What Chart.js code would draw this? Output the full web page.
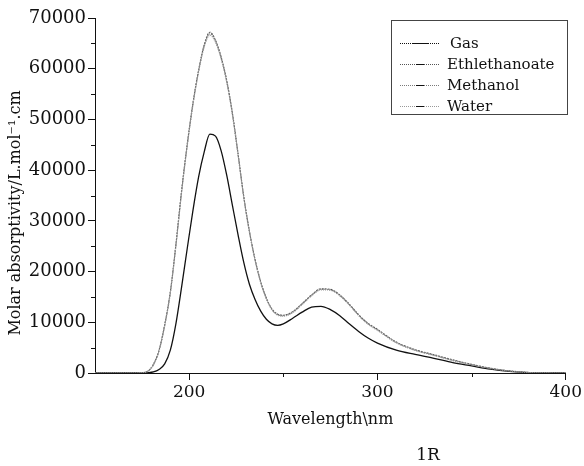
<!DOCTYPE html>
<html>
<head>
<meta charset="utf-8">
<script src="https://cdn.jsdelivr.net/npm/chart.js@4.4.0/dist/chart.umd.min.js"></script>
<style>
  body { margin: 0; background: #fff; }
  canvas { display: block; }
</style>
</head>
<body>
<canvas id="myChart" width="584" height="466"></canvas>
<script>
// wavelength grid (nm)
var wavelength = [150, 160, 170, 175, 178, 181, 184, 187, 190, 193, 196, 199, 202, 205, 208, 211, 214, 217, 220,
  223, 226, 229, 232, 235, 238, 241, 244, 247, 250, 255, 260, 265, 270, 275, 280, 285, 290, 295, 300,
  310, 320, 330, 340, 350, 360, 370, 380, 390, 400];

// molar absorptivity per medium
var gas = [0, 0, 0, 0, 50, 200, 700, 1800, 4500, 9800, 17000, 24600, 32000, 38600, 43600, 47100, 46700, 43800, 38900,
  33000, 27200, 21800, 17500, 14500, 12200, 10600, 9700, 9400, 9700, 10800, 12000, 13000, 13150, 12500, 11300, 9700, 8200, 6900, 5900,
  4500, 3650, 2900, 2050, 1400, 750, 320, 90, 10, 0];
var ethlethanoate = [0, 0, 0, 80, 350, 1700, 4500, 9500, 16000, 25500, 36000, 45200, 53200, 59700, 64700, 67200, 65600, 62300, 57600,
  51200, 43200, 34800, 28000, 22400, 18000, 14800, 12600, 11600, 11400, 12100, 13700, 15400, 16600, 16500, 15400, 13600, 11500, 9800, 8600,
  6100, 4600, 3600, 2600, 1700, 950, 420, 120, 30, 0];
var methanol = [0, 0, 0, 70, 330, 1650, 4400, 9400, 15900, 25300, 35800, 45000, 53000, 59500, 64500, 66900, 65400, 62100, 57400,
  51000, 43000, 34700, 27900, 22300, 17900, 14700, 12500, 11500, 11300, 12000, 13600, 15300, 16500, 16400, 15300, 13500, 11400, 9700, 8500,
  6000, 4500, 3500, 2500, 1650, 920, 400, 110, 25, 0];
var water = [0, 0, 0, 60, 300, 1550, 4300, 9200, 15700, 25100, 35600, 44800, 52800, 59300, 64300, 66600, 65200, 61900, 57200,
  50800, 42800, 34500, 27700, 22200, 17800, 14600, 12400, 11400, 11200, 11900, 13500, 15200, 16400, 16300, 15200, 13400, 11300, 9600, 8400,
  5950, 4450, 3450, 2450, 1600, 900, 380, 100, 20, 0];

var seriesNames = ['Gas', 'Ethlethanoate', 'Methanol', 'Water'];
var seriesValues = [gas, ethlethanoate, methanol, water];
var lineColors = ['#111111', '#555555', '#7a7a7a', '#999999'];
var lineDashes = [[], [2, 1], [1.5, 1], [1, 1]];

var xMajor = [200, 250, 300, 350, 400];
var xLabels = [200, 300, 400];
var yMajor = [0, 10000, 20000, 30000, 40000, 50000, 60000, 70000];

var serif = "'DejaVu Serif', serif";

function toPoints(values) {
  return values.map(function (v, i) { return { x: wavelength[i], y: v }; });
}

var datasets = seriesNames.map(function (name, i) {
  return {
    label: name,
    data: toPoints(seriesValues[i]),
    borderColor: lineColors[i],
    borderWidth: i === 0 ? 1.3 : 1.1,
    borderDash: lineDashes[i],
    pointRadius: 0,
    cubicInterpolationMode: 'monotone',
    fill: false
  };
}).reverse();

// minor ticks, titles, caption and the boxed legend
var extras = {
  id: 'extras',
  afterDraw: function (chart) {
    var c = chart.ctx;
    var xs = chart.scales.x, ys = chart.scales.y;
    c.save();
    c.strokeStyle = '#111';
    c.lineWidth = 1;
    c.beginPath();
    for (var v = 5000; v < 70000; v += 10000) {
      var py = Math.round(ys.getPixelForValue(v)) + 0.5;
      c.moveTo(xs.left - 4, py);
      c.lineTo(xs.left, py);
    }
    xMajor.forEach(function (w) {
      if (xLabels.indexOf(w) >= 0) return;
      var px = Math.round(xs.getPixelForValue(w)) + 0.5;
      c.moveTo(px, xs.top);
      c.lineTo(px, xs.top + 4);
    });
    c.stroke();

    c.fillStyle = '#111';
    c.font = '16px ' + serif;
    c.textAlign = 'center';
    c.textBaseline = 'middle';
    c.fillText('Wavelength\\nm', (xs.left + xs.right) / 2, 420);
    c.font = '17px ' + serif;
    c.fillText('1R', 428, 456);

    c.save();
    c.translate(16, 213);
    c.rotate(-Math.PI / 2);
    c.font = '16px ' + serif;
    c.fillText('Molar absorptivity/L.mol\u207B\u00B9.cm', 0, 0);
    c.restore();

    // legend box
    c.fillStyle = '#fff';
    c.fillRect(391.5, 20.5, 176, 94);
    c.strokeStyle = '#444';
    c.strokeRect(391.5, 20.5, 176, 94);
    c.font = '15px ' + serif;
    c.textAlign = 'left';
    seriesNames.forEach(function (name, i) {
      var y = 43 + i * 21;
      c.strokeStyle = lineColors[i];
      c.setLineDash([1, 1]);
      c.beginPath();
      c.moveTo(400, y + 0.5);
      c.lineTo(440, y + 0.5);
      c.stroke();
      c.setLineDash([]);
      c.strokeStyle = '#111';
      c.beginPath();
      c.moveTo(i === 0 ? 413 : 416, y + 0.5);
      c.lineTo(i === 0 ? 428 : 424, y + 0.5);
      c.stroke();
      c.fillStyle = '#111';
      c.fillText(name, i === 0 ? 450 : 447, y + 1);
    });
    c.restore();
  }
};

var ctx = document.getElementById('myChart');
var myChart = new Chart(ctx, {
  type: 'line',
  data: { datasets: datasets },
  options: {
    responsive: false,
    animation: false,
    layout: { padding: { top: 18, right: 18, left: 0, bottom: 0 } },
    plugins: { legend: { display: false }, tooltip: { enabled: false } },
    scales: {
      x: {
        type: 'linear',
        min: 150,
        max: 400,
        afterBuildTicks: function (scale) {
          scale.ticks = xMajor.map(function (v) { return { value: v }; });
        },
        afterFit: function (scale) { scale.height = 93; },
        border: { display: true, color: '#111', width: 1 },
        grid: {
          drawOnChartArea: false,
          tickLength: 7,
          color: function (c) {
            return c.tick && xLabels.indexOf(c.tick.value) < 0 ? 'rgba(0,0,0,0)' : '#111';
          }
        },
        ticks: {
          color: '#111',
          padding: 2,
          maxRotation: 0,
          font: { family: serif, size: 17 },
          callback: function (v) { return xLabels.indexOf(v) >= 0 ? String(v) : ''; }
        }
      },
      y: {
        min: 0,
        max: 70000,
        afterBuildTicks: function (scale) {
          scale.ticks = yMajor.map(function (v) { return { value: v }; });
        },
        afterFit: function (scale) { scale.width = 95; },
        border: { display: true, color: '#111', width: 1 },
        grid: { drawOnChartArea: false, tickLength: 7, color: '#111' },
        ticks: {
          color: '#111',
          padding: 2,
          font: { family: serif, size: 18 },
          callback: function (v) { return String(v); }
        }
      }
    }
  },
  plugins: [extras]
});
</script>
</body>
</html>
